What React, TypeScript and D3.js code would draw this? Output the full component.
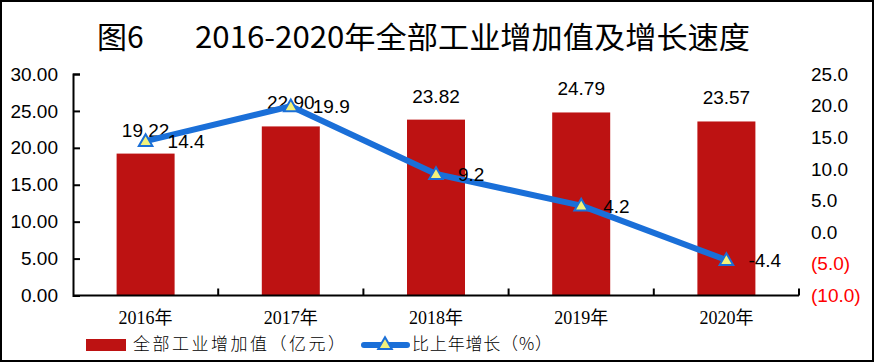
import React, { useEffect, useRef } from "react"
import * as d3 from "d3"

const years = ["2016年", "2017年", "2018年", "2019年", "2020年"]
const addedValue = [19.22, 22.90, 23.82, 24.79, 23.57]
const growth = [14.4, 19.9, 9.2, 4.2, -4.4]
const leftTicks = [0, 5, 10, 15, 20, 25, 30]
const rightTicks = [-10, -5, 0, 5, 10, 15, 20, 25]

const barColor = "#bd1212"
const lineColor = "#1a6fd8"
const sans = "'Liberation Sans', Arial, sans-serif"
const cjk = "'Liberation Serif', 'Noto Sans CJK SC', serif"

export default function App() {
  const ref = useRef<SVGSVGElement>(null)

  useEffect(() => {
    document.body.style.margin = "0"
    const svg = d3.select(ref.current)
    svg.selectAll("*").remove()

    const W = 874, H = 362
    const left = 73, right = 799, top = 74, bottom = 295.5

    svg.append("rect")
      .attr("x", 1).attr("y", 1)
      .attr("width", W - 2).attr("height", H - 2)
      .attr("fill", "#fff").attr("stroke", "#000").attr("stroke-width", 2)

    // title
    svg.append("text")
      .attr("x", 97).attr("y", 48)
      .style("font-family", "'Noto Sans CJK SC', sans-serif")
      .style("font-size", "30px")
      .style("font-weight", 400)
      .attr("fill", "#000")
      .text("图6")
    svg.append("text")
      .attr("x", 750).attr("y", 48)
      .attr("text-anchor", "end")
      .style("font-family", "'Noto Sans CJK SC', sans-serif")
      .style("font-size", "30px")
      .style("font-weight", 400)
      .attr("fill", "#000")
      .attr("textLength", 555)
      .attr("lengthAdjust", "spacingAndGlyphs")
      .text("2016-2020年全部工业增加值及增长速度")

    const x = d3.scaleBand().domain(years).range([left, right]).paddingInner(0).paddingOuter(0)
    const yL = d3.scaleLinear().domain([0, 30]).range([bottom, top])
    const yR = d3.scaleLinear().domain([-10, 25]).range([bottom, top])

    // left axis
    const gl = svg.append("g").attr("transform", `translate(${left},0)`)
      .call(d3.axisLeft(yL).tickValues(leftTicks).tickSize(-7).tickPadding(15).tickFormat(d3.format(".2f")))
    gl.select(".domain").attr("stroke", "#000").attr("stroke-width", 2)
    gl.selectAll(".tick line").attr("stroke", "#000").attr("stroke-width", 2)
    gl.selectAll(".tick text").attr("fill", "#000").style("font-family", sans).style("font-size", "19px")

    // right axis (labels only)
    const gr = svg.append("g").attr("transform", `translate(${right},0)`)
      .call(d3.axisRight(yR).tickValues(rightTicks).tickSize(0).tickPadding(12)
        .tickFormat((d: any) => d < 0 ? `(${d3.format(".1f")(-d)})` : d3.format(".1f")(d)))
    gr.select(".domain").remove()
    gr.selectAll(".tick text")
      .attr("fill", (d: any) => d < 0 ? "#ff0000" : "#000")
      .style("font-family", sans).style("font-size", "19px")

    // bars
    const bw = 58
    svg.selectAll("rect.bar")
      .data(addedValue)
      .enter()
      .append("rect")
      .attr("class", "bar")
      .attr("x", (d, i) => x(years[i])! + x.bandwidth() / 2 - bw / 2)
      .attr("y", d => yL(d))
      .attr("width", bw)
      .attr("height", d => yL(0) - yL(d))
      .attr("fill", barColor)

    // bottom axis line with boundary ticks
    svg.append("line")
      .attr("x1", left).attr("x2", right)
      .attr("y1", bottom).attr("y2", bottom)
      .attr("stroke", "#000").attr("stroke-width", 2)
    years.forEach((c, i) => {
      const bx = x(c)! + x.bandwidth()
      svg.append("line")
        .attr("x1", bx).attr("x2", bx)
        .attr("y1", bottom).attr("y2", bottom - 7)
        .attr("stroke", "#000").attr("stroke-width", 2)
    })

    svg.selectAll("text.xl")
      .data(years)
      .enter()
      .append("text")
      .attr("class", "xl")
      .attr("x", d => x(d)! + x.bandwidth() / 2)
      .attr("y", 324)
      .attr("text-anchor", "middle")
      .style("font-family", cjk)
      .style("font-size", "18px")
      .attr("fill", "#000")
      .text(d => d)

    // bar labels
    svg.selectAll("text.bl")
      .data(addedValue)
      .enter()
      .append("text")
      .attr("class", "bl")
      .attr("x", (d, i) => x(years[i])! + x.bandwidth() / 2)
      .attr("y", d => yL(d) - 17)
      .attr("text-anchor", "middle")
      .style("font-family", sans)
      .style("font-size", "19px")
      .attr("fill", "#000")
      .text(d => d.toFixed(2))

    // growth line
    const cx = (i: number) => x(years[i])! + x.bandwidth() / 2
    const line = d3.line<number>().x((d, i) => cx(i)).y(d => yR(d))
    svg.append("path")
      .datum(growth)
      .attr("d", line)
      .attr("fill", "none")
      .attr("stroke", lineColor)
      .attr("stroke-width", 6)
      .attr("stroke-linejoin", "round")

    const tri = d3.symbol().type(d3.symbolTriangle).size(80)
    svg.selectAll("path.mk")
      .data(growth)
      .enter()
      .append("path")
      .attr("class", "mk")
      .attr("d", tri)
      .attr("transform", (d, i) => `translate(${cx(i)},${yR(d) + 1})`)
      .attr("fill", "#f2f27c")
      .attr("stroke", lineColor)
      .attr("stroke-width", 2)

    svg.selectAll("text.gl")
      .data(growth)
      .enter()
      .append("text")
      .attr("class", "gl")
      .attr("x", (d, i) => cx(i) + 22)
      .attr("y", d => yR(d) + 7)
      .style("font-family", sans)
      .style("font-size", "19px")
      .attr("fill", "#000")
      .text(d => d.toFixed(1))

    // legend
    const lg = svg.append("g")
    lg.append("rect")
      .attr("x", 86).attr("y", 339).attr("width", 40).attr("height", 12)
      .attr("fill", barColor)
    lg.append("text")
      .attr("x", 133).attr("y", 350)
      .style("font-family", "'Noto Sans CJK SC', sans-serif")
      .style("font-size", "17px")
      .style("font-weight", 300)
      .attr("fill", "#000")
      .attr("textLength", 212)
      .attr("lengthAdjust", "spacing")
      .text("全部工业增加值（亿元）")
    lg.append("line")
      .attr("x1", 364).attr("x2", 407).attr("y1", 345).attr("y2", 345)
      .attr("stroke", lineColor).attr("stroke-width", 6).attr("stroke-linecap", "round")
    lg.append("path")
      .attr("d", tri)
      .attr("transform", "translate(385,345)")
      .attr("fill", "#f2f27c")
      .attr("stroke", lineColor)
      .attr("stroke-width", 2)
    lg.append("text")
      .attr("x", 412).attr("y", 350)
      .style("font-family", "'Noto Sans CJK SC', sans-serif")
      .style("font-size", "17px")
      .style("font-weight", 300)
      .attr("fill", "#000")
      .attr("textLength", 140)
      .attr("lengthAdjust", "spacing")
      .text("比上年增长（%）")
  }, [])

  return (
    <svg ref={ref} width={874} height={362} style={{ display: "block" }}></svg>
  )
}
